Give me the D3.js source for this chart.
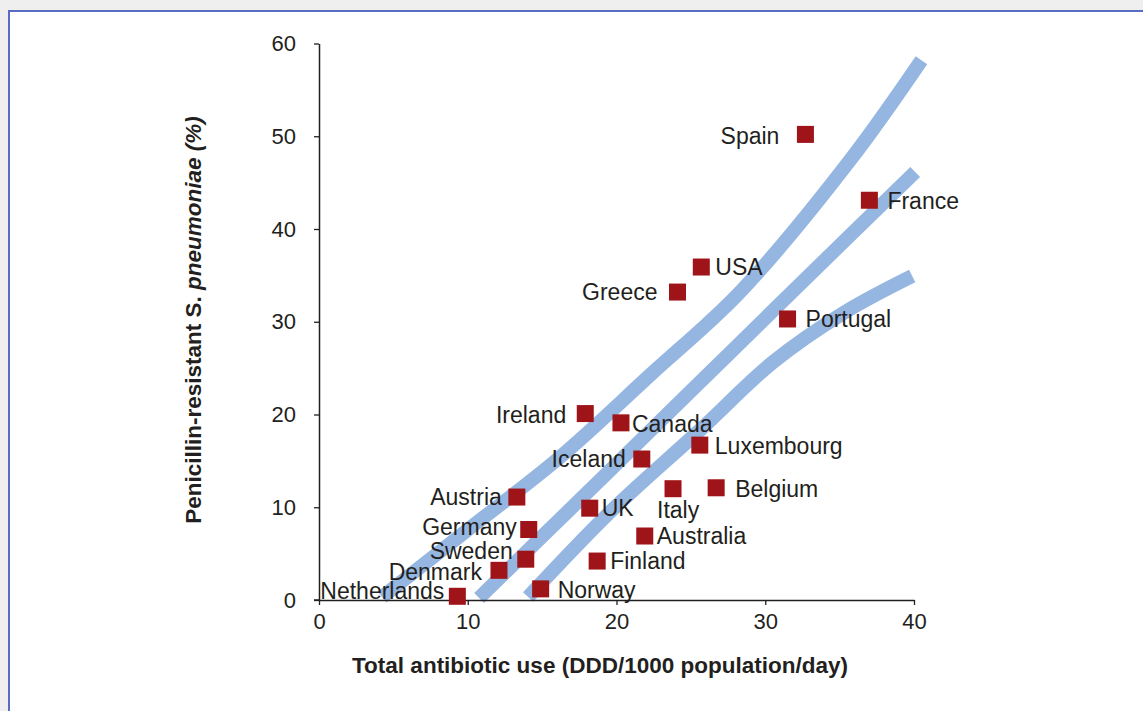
<!DOCTYPE html>
<html>
<head>
<meta charset="utf-8">
<script src="https://cdn.jsdelivr.net/npm/d3@7"></script>
<style>
  html, body { margin: 0; padding: 0; background: #eeeeee; }
  svg { display: block; }
  text { font-family: "Liberation Sans", Arial, Helvetica, sans-serif; }
</style>
</head>
<body>
<svg id="chart" width="1143" height="711"></svg>
<script>
// Countries: total antibiotic use vs. penicillin-resistant S. pneumoniae
const countries = ["Spain", "France", "USA", "Greece", "Portugal", "Ireland", "Canada",
  "Iceland", "Luxembourg", "Italy", "Belgium", "Austria", "UK", "Australia", "Germany",
  "Sweden", "Finland", "Denmark", "Norway", "Netherlands"];
const antibioticUse = [32.7, 37.0, 25.7, 24.1, 31.5, 17.9, 20.3,
  21.7, 25.6, 23.8, 26.7, 13.3, 18.2, 21.9, 14.1,
  13.9, 18.7, 12.1, 14.9, 9.3];
const resistance = [50.2, 43.1, 35.9, 33.2, 30.3, 20.1, 19.1,
  15.2, 16.7, 12.0, 12.1, 11.1, 9.9, 6.9, 7.6,
  4.4, 4.2, 3.2, 1.2, 0.4];
// where each country's name sits relative to its marker
const labelSide = ["left", "right", "right", "left", "right", "left", "right",
  "left", "right", "below", "right", "left", "right", "right", "left",
  "left", "right", "left", "right", "left"];
const labelDx = [-26, 18, 14, -20, 18, -19, 11, -16, 15, -16, 19, -15, 12, 12, -12, -13, 13, -17, 17, -13];
const labelDy = [1, 0, 0, 0, 0, 1, 1, 0, 1, 21, 1, 0, 0, 0, -3, -8, 0, 1, 1, -6];

// Trend bands (x: use, y: resistance)
const bandUpper = [[4.24, 0.32], [10.15, 7.76], [16.21, 15.42], [22.26, 24.26], [28.31, 33.21], [35.71, 47.44], [40.5, 58.2]];
const bandMiddle = [[10.76, 0.22], [18.90, 12.94], [25.62, 23.50], [32.35, 34.07], [40.08, 46.15]];
const bandLower = [[14.06, 0.32], [19.57, 9.49], [25.62, 18.33], [30.53, 25.66], [35.37, 31.05], [39.88, 34.93]];

const xTicks = [0, 10, 20, 30, 40];
const yTicks = [0, 10, 20, 30, 40, 50, 60];
const xTitle = "Total antibiotic use (DDD/1000 population/day)";

const svg = d3.select("#chart");

// panel frame
svg.append("rect").attr("x", 0).attr("y", 0).attr("width", 1143).attr("height", 711).attr("fill", "#efefef");
svg.append("rect").attr("x", 9).attr("y", 11).attr("width", 1160).attr("height", 740)
  .attr("fill", "#ffffff").attr("stroke", "#5a6cc2").attr("stroke-width", 2);

const x = d3.scaleLinear().domain([0, 40]).range([319, 914]);
const y = d3.scaleLinear().domain([0, 60]).range([600, 43.5]);

// bands
const line = d3.line().x(d => x(d[0])).y(d => y(d[1])).curve(d3.curveCatmullRom.alpha(0.5));
svg.append("g").selectAll("path")
  .data([bandUpper, bandMiddle, bandLower])
  .join("path")
  .attr("d", line)
  .attr("fill", "none")
  .attr("stroke", "#95b6e1")
  .attr("stroke-width", 14)
  .attr("stroke-linecap", "butt");

// axes
const axisColor = "#231f20";
const gx = svg.append("g").attr("transform", `translate(0,${y(0)})`)
  .call(d3.axisBottom(x).tickValues(xTicks).tickSize(5).tickSizeOuter(0).tickPadding(8));
const gy = svg.append("g").attr("transform", `translate(${x(0)},0)`)
  .call(d3.axisLeft(y).tickValues(yTicks).tickSize(5).tickSizeOuter(0).tickPadding(18));
[gx, gy].forEach(g => {
  g.select(".domain").attr("stroke", axisColor).attr("stroke-width", 1.5);
  g.selectAll(".tick line").attr("stroke", axisColor).attr("stroke-width", 1.3);
  g.selectAll(".tick text").attr("fill", "#231f20")
    .style("font-family", "'Liberation Sans', Arial, sans-serif").style("font-size", "22px");
});
// extend the x baseline slightly left to meet the zero tick
svg.append("line").attr("x1", x(0) - 5).attr("x2", x(0)).attr("y1", y(0)).attr("y2", y(0))
  .attr("stroke", axisColor).attr("stroke-width", 1.5);

// markers
const pts = countries.map((c, i) => ({ name: c, u: antibioticUse[i], r: resistance[i], side: labelSide[i], dx: labelDx[i], dy: labelDy[i] }));
const sq = 17;
svg.append("g").selectAll("rect")
  .data(pts).join("rect")
  .attr("x", d => x(d.u) - sq / 2)
  .attr("y", d => y(d.r) - sq / 2)
  .attr("width", sq).attr("height", sq)
  .attr("fill", "#9e1419");

// country names
svg.append("g").selectAll("text")
  .data(pts).join("text")
  .attr("x", d => x(d.u) + d.dx)
  .attr("y", d => y(d.r) + d.dy)
  .attr("dy", "0.36em")
  .attr("text-anchor", d => d.side === "left" ? "end" : "start")
  .attr("fill", "#231f20")
  .style("font-size", "23px")
  .text(d => d.name);

// axis titles
svg.append("text")
  .attr("x", 600).attr("y", 665).attr("dy", "0.36em")
  .attr("text-anchor", "middle")
  .attr("fill", "#231f20")
  .style("font-size", "22.5px").style("font-weight", "bold")
  .text(xTitle);

const yt = svg.append("text")
  .attr("transform", "translate(193,320) rotate(-90)")
  .attr("dy", "0.36em")
  .attr("text-anchor", "middle")
  .attr("fill", "#231f20")
  .style("font-size", "22.5px").style("font-weight", "bold");
yt.append("tspan").text("Penicillin-resistant S. ");
yt.append("tspan").style("font-style", "italic").text("pneumoniae (%)");
</script>
</body>
</html>
